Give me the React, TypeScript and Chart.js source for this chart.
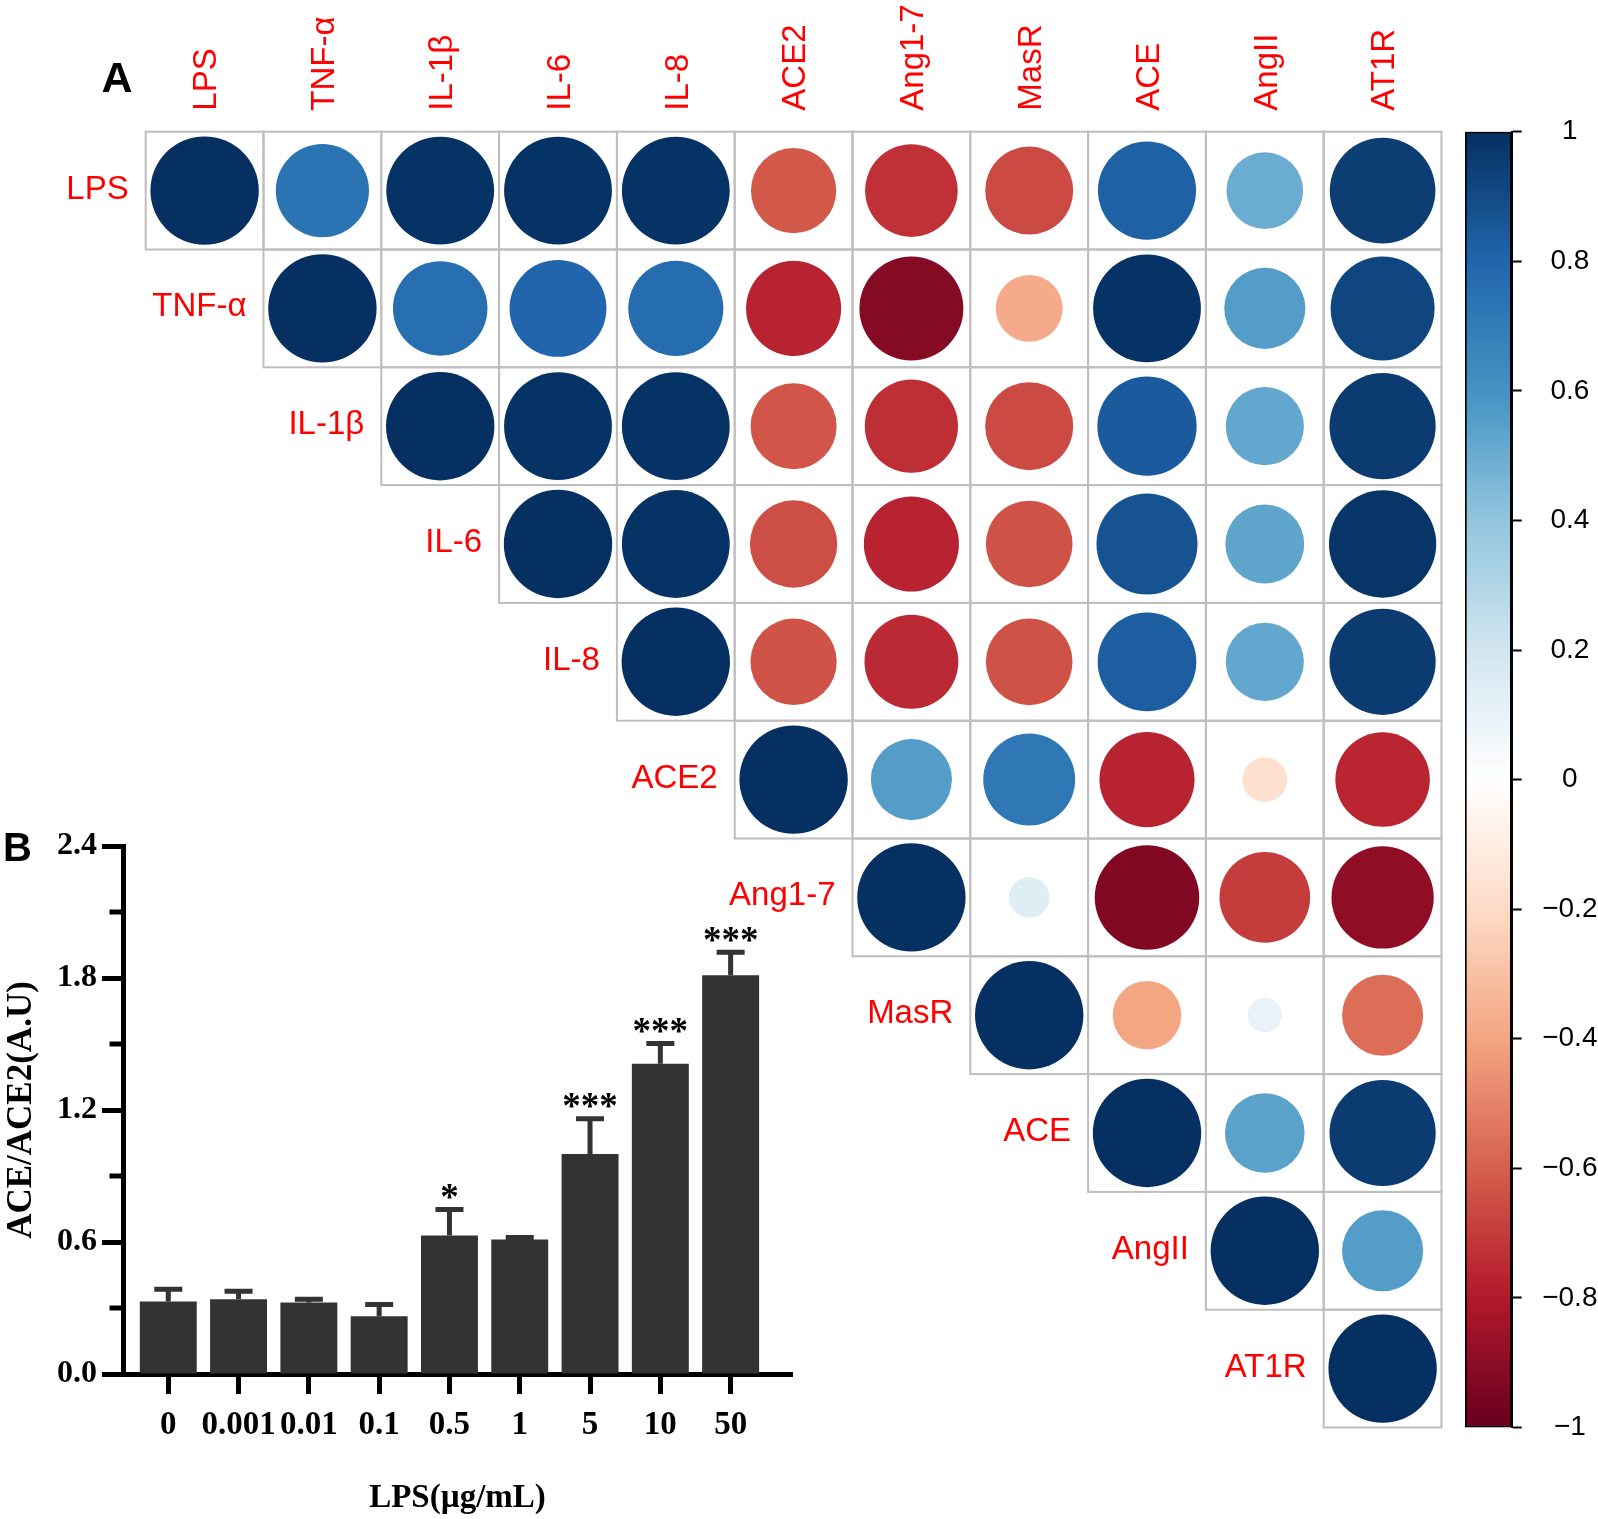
import React, { useEffect, useRef } from "react";
import { Chart, registerables } from "chart.js";

Chart.register(...registerables);

const SANS = '"Liberation Sans", Arial, sans-serif';
const SERIF = '"Liberation Serif", "Times New Roman", serif';

// ---------- Panel A: correlation matrix (upper triangle) ----------
const VARIABLES = ["LPS", "TNF-α", "IL-1β", "IL-6", "IL-8", "ACE2", "Ang1-7", "MasR", "ACE", "AngII", "AT1R"];
// each row starts at the diagonal
const ROW_LPS = [1, 0.74, 0.99, 0.99, 0.99, -0.62, -0.73, -0.66, 0.82, 0.5, 0.95];
const ROW_TNF = [1, 0.76, 0.8, 0.77, -0.77, -0.92, -0.38, 0.99, 0.56, 0.92];
const ROW_IL1B = [1, 0.99, 0.99, -0.63, -0.74, -0.66, 0.84, 0.52, 0.96];
const ROW_IL6 = [1, 0.99, -0.65, -0.77, -0.64, 0.87, 0.53, 0.98];
const ROW_IL8 = [1, -0.635, -0.75, -0.64, 0.83, 0.52, 0.96];
const ROW_ACE2 = [1, 0.56, 0.72, -0.77, -0.17, -0.76];
const ROW_ANG17 = [1, 0.14, -0.93, -0.7, -0.89];
const ROW_MASR = [1, -0.4, 0.1, -0.56];
const ROW_ACE = [1, 0.54, 0.96];
const ROW_ANGII = [1, 0.56];
const ROW_AT1R = [1];
const CORR_ROWS = [ROW_LPS, ROW_TNF, ROW_IL1B, ROW_IL6, ROW_IL8, ROW_ACE2, ROW_ANG17, ROW_MASR, ROW_ACE, ROW_ANGII, ROW_AT1R];

const RDBU = ["#67001F", "#B2182B", "#D6604D", "#F4A582", "#FDDBC7", "#FFFFFF", "#D1E5F0", "#92C5DE", "#4393C3", "#2166AC", "#053061"];
const COLORBAR_MIN = -1;
const COLORBAR_MAX = 1;
const COLORBAR_STEP = 0.2;

// ---------- Panel B: ACE/ACE2 bar chart ----------
const DOSES = ["0", "0.001", "0.01", "0.1", "0.5", "1", "5", "10", "50"];
const RATIO_MEAN = [0.33, 0.34, 0.325, 0.262, 0.63, 0.611, 1.0, 1.41, 1.812];
const RATIO_SEM = [0.055, 0.036, 0.015, 0.054, 0.118, 0.01, 0.16, 0.092, 0.105];
const SIGNIF = ["", "", "", "", "*", "", "***", "***", "***"];
const Y_MAJOR = [0, 0.6, 1.2, 1.8, 2.4];
const Y_MINOR = [0.3, 0.9, 1.5, 2.1];

function hexToRgb(hex: string) {
  const n = parseInt(hex.slice(1), 16);
  return [(n >> 16) & 255, (n >> 8) & 255, n & 255];
}
function corrColor(v: number) {
  const t = Math.max(0, Math.min(1, (v + 1) / 2)) * (RDBU.length - 1);
  const i = Math.min(Math.floor(t), RDBU.length - 2);
  const f = t - i;
  const a = hexToRgb(RDBU[i]);
  const b = hexToRgb(RDBU[i + 1]);
  const c = a.map((x, k) => Math.round(x + (b[k] - x) * f));
  return `rgb(${c[0]},${c[1]},${c[2]})`;
}

const matrixPlugin = {
  id: "matrixDecor",
  beforeDatasetsDraw(chart: any) {
    const { ctx } = chart;
    const xs = chart.scales.x;
    const ys = chart.scales.y;
    ctx.save();
    ctx.strokeStyle = "#BEBEBE";
    ctx.lineWidth = 2;
    CORR_ROWS.forEach((row, i) =>
      row.forEach((_, k) => {
        const j = i + k;
        const x0 = xs.getPixelForValue(j - 0.5);
        const x1 = xs.getPixelForValue(j + 0.5);
        const y0 = ys.getPixelForValue(i - 0.5);
        const y1 = ys.getPixelForValue(i + 0.5);
        ctx.strokeRect(x0, y0, x1 - x0, y1 - y0);
      })
    );
    ctx.restore();
  },
  afterDraw(chart: any) {
    const { ctx } = chart;
    const xs = chart.scales.x;
    const ys = chart.scales.y;
    const size = 33;
    ctx.save();
    ctx.fillStyle = "#FF0000";
    ctx.font = `${size}px ${SANS}`;
    const top = ys.getPixelForValue(-0.5);
    VARIABLES.forEach((name, j) => {
      const cx = xs.getPixelForValue(j);
      ctx.save();
      ctx.translate(cx + 0.358 * size, top - 21);
      ctx.rotate(-Math.PI / 2);
      ctx.textAlign = "left";
      ctx.textBaseline = "alphabetic";
      ctx.fillText(name, 0, 0);
      ctx.restore();
    });
    VARIABLES.forEach((name, i) => {
      ctx.textAlign = "right";
      ctx.textBaseline = "alphabetic";
      ctx.fillText(name, xs.getPixelForValue(i - 0.5) - 17, ys.getPixelForValue(i) + 8);
    });
    ctx.fillStyle = "#000";
    ctx.font = `bold 43px ${SANS}`;
    ctx.textAlign = "center";
    ctx.fillText("A", 117, 92);
    ctx.restore();
  },
};

const barDecorPlugin = {
  id: "barDecor",
  afterDatasetsDraw(chart: any) {
    const { ctx, chartArea } = chart;
    const xs = chart.scales.x;
    const ys = chart.scales.y;
    ctx.save();
    ctx.strokeStyle = "#333333";
    ctx.lineWidth = 5;
    RATIO_MEAN.forEach((m, i) => {
      const x = xs.getPixelForValue(i);
      const y0 = ys.getPixelForValue(m);
      const y1 = ys.getPixelForValue(m + RATIO_SEM[i]);
      ctx.beginPath();
      ctx.moveTo(x, y0);
      ctx.lineTo(x, y1);
      ctx.moveTo(x - 14, y1);
      ctx.lineTo(x + 14, y1);
      ctx.stroke();
      if (SIGNIF[i]) {
        ctx.fillStyle = "#000";
        ctx.font = `bold 37px ${SERIF}`;
        ctx.textAlign = "center";
        ctx.textBaseline = "alphabetic";
        const mt = ctx.measureText(SIGNIF[i]);
        const bottom = y1 - 2.5 - 8;
        ctx.fillText(SIGNIF[i], x, bottom - mt.actualBoundingBoxDescent);
      }
    });
    // minor ticks on the y axis
    ctx.strokeStyle = "#000";
    ctx.lineWidth = 5;
    Y_MINOR.forEach((v) => {
      const y = ys.getPixelForValue(v);
      ctx.beginPath();
      ctx.moveTo(chartArea.left - 2.5 - 11, y);
      ctx.lineTo(chartArea.left, y);
      ctx.stroke();
    });
    // panel letter
    ctx.fillStyle = "#000";
    ctx.font = `bold 40px ${SANS}`;
    ctx.textAlign = "left";
    ctx.textBaseline = "alphabetic";
    ctx.fillText("B", 3, 61);
    ctx.restore();
  },
};

export default function App() {
  const matrixRef = useRef<HTMLCanvasElement>(null);
  const barRef = useRef<HTMLCanvasElement>(null);
  const cbRef = useRef<HTMLCanvasElement>(null);

  useEffect(() => {
    const charts: Chart[] = [];

    // ---- correlation matrix ----
    const MW = 1460;
    const MH = 1440;
    const points: any[] = [];
    CORR_ROWS.forEach((row, i) => row.forEach((v, k) => points.push({ x: i + k, y: i, v })));
    charts.push(
      new Chart(matrixRef.current as HTMLCanvasElement, {
        type: "scatter",
        data: {
          datasets: [
            {
              data: points,
              showLine: false,
              pointBackgroundColor: (c: any) => corrColor(c.raw ? c.raw.v : 0),
              pointBorderWidth: 0,
              pointBorderColor: "rgba(0,0,0,0)",
              pointRadius: (c: any) => {
                const xs = c.chart.scales.x;
                const cell = Math.abs(xs.getPixelForValue(1) - xs.getPixelForValue(0));
                const v = c.raw ? c.raw.v : 0;
                if (!isFinite(cell)) return 0;
                return Math.sqrt(Math.abs(v)) * 0.46 * cell;
              },
              pointHoverRadius: 0,
              clip: false,
            } as any,
          ],
        },
        options: {
          responsive: false,
          animation: false,
          events: [],
          layout: { padding: { left: 145.7, top: 131.7, right: MW - 1441.5, bottom: MH - 1427.5 } },
          scales: {
            x: { type: "linear", min: -0.5, max: VARIABLES.length - 0.5, display: false },
            y: { type: "linear", min: -0.5, max: VARIABLES.length - 0.5, reverse: true, display: false },
          },
          plugins: { legend: { display: false }, tooltip: { enabled: false } },
        } as any,
        plugins: [matrixPlugin],
      })
    );

    // ---- colour bar ----
    charts.push(
      new Chart(cbRef.current as HTMLCanvasElement, {
        type: "bar",
        data: {
          labels: [""],
          datasets: [
            {
              data: [[COLORBAR_MIN, COLORBAR_MAX]],
              backgroundColor: (c: any) => {
                const chart = c.chart;
                const ys = chart.scales.y;
                if (!ys || !chart.chartArea) return RDBU[5];
                const g = chart.ctx.createLinearGradient(0, ys.getPixelForValue(COLORBAR_MIN), 0, ys.getPixelForValue(COLORBAR_MAX));
                RDBU.forEach((col, k) => g.addColorStop(k / (RDBU.length - 1), col));
                return g;
              },
              borderColor: "#000",
              borderWidth: 2,
              borderSkipped: false,
              barPercentage: 1,
              categoryPercentage: 1,
            } as any,
          ],
        },
        options: {
          responsive: false,
          animation: false,
          events: [],
          layout: { padding: { left: 25, top: 131.7, right: 0, bottom: 1519 - 1427.5 } },
          scales: {
            x: { display: false },
            y: {
              position: "right",
              min: COLORBAR_MIN,
              max: COLORBAR_MAX,
              ticks: {
                stepSize: COLORBAR_STEP,
                color: "#000",
                font: { family: SANS, size: 28 },
                padding: 20.5,
                crossAlign: "center",
                callback: (value: any) => {
                  const r = Math.round(Number(value) * 10) / 10;
                  return r < 0 ? "\u2212" + String(-r) : String(Math.abs(r));
                },
              },
              grid: { drawOnChartArea: false, drawTicks: true, tickLength: 10, tickWidth: 2, tickColor: "#000" },
              border: { display: true, color: "#000", width: 2 },
              afterFit: (s: any) => {
                s.width = 86.3;
              },
            },
          },
          plugins: { legend: { display: false }, tooltip: { enabled: false } },
        } as any,
      })
    );

    // ---- bar chart ----
    charts.push(
      new Chart(barRef.current as HTMLCanvasElement, {
        type: "bar",
        data: {
          datasets: [
            {
              data: RATIO_MEAN.map((m, i) => ({ x: i, y: m })),
              backgroundColor: "#333333",
              borderWidth: 0,
              barPercentage: 0.81,
              categoryPercentage: 1,
            } as any,
          ],
        },
        options: {
          responsive: false,
          animation: false,
          events: [],
          layout: { padding: { left: 0, top: 46, right: 8, bottom: 0 } },
          scales: {
            x: {
              type: "linear",
              min: -0.644,
              max: 8.873,
              offset: false,
              afterBuildTicks: (s: any) => {
                s.ticks = DOSES.map((_, i) => ({ value: i }));
              },
              ticks: {
                autoSkip: false,
                maxRotation: 0,
                color: "#000",
                font: { family: SERIF, size: 33, weight: "bold" },
                padding: 12,
                callback: (v: any) => DOSES[Math.round(Number(v))],
              },
              grid: { offset: false, drawOnChartArea: false, drawTicks: true, tickLength: 20, tickWidth: 5, tickColor: "#000" },
              border: { display: true, color: "#000", width: 5 },
              title: {
                display: true,
                text: "LPS(µg/mL)",
                color: "#000",
                font: { family: SERIF, size: 33, weight: "bold" },
                padding: { top: 0, bottom: 1 },
              },
              afterFit: (s: any) => {
                s.height = 145;
              },
            },
            y: {
              min: 0,
              max: 2.4,
              afterBuildTicks: (s: any) => {
                s.ticks = Y_MAJOR.map((v) => ({ value: v }));
              },
              ticks: {
                color: "#000",
                font: { family: SERIF, size: 32, weight: "bold" },
                padding: 5,
                callback: (v: any) => Number(v).toFixed(1),
              },
              grid: { drawOnChartArea: false, drawTicks: true, tickLength: 21, tickWidth: 5, tickColor: "#000" },
              border: { display: true, color: "#000", width: 5 },
              title: {
                display: true,
                text: "ACE/ACE2(A.U)",
                color: "#000",
                font: { family: SERIF, size: 35, weight: "bold" },
                padding: { top: 1.4, bottom: 0 },
              },
              afterFit: (s: any) => {
                s.width = 123;
              },
            },
          },
          plugins: { legend: { display: false }, tooltip: { enabled: false } },
        } as any,
        plugins: [barDecorPlugin],
      })
    );

    return () => charts.forEach((c) => c.destroy());
  }, []);

  return (
    <div style={{ position: "absolute", left: 0, top: 0, width: 1598, height: 1519, background: "#fff", overflow: "hidden" }}>
      <canvas ref={matrixRef} width={1460} height={1440} style={{ position: "absolute", left: 0, top: 0 }} />
      <canvas ref={barRef} width={800} height={719} style={{ position: "absolute", left: 0, top: 800 }} />
      <canvas ref={cbRef} width={158} height={1519} style={{ position: "absolute", left: 1440, top: 0 }} />
    </div>
  );
}
